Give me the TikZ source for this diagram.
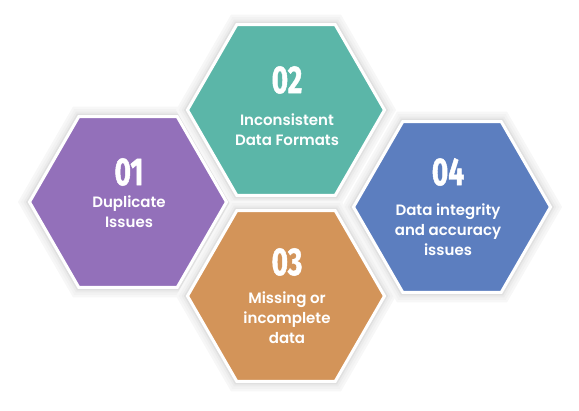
\documentclass[tikz,border=0pt]{standalone}
\usepackage{fontspec}
\usepackage{tikz}
\usetikzlibrary{shapes.geometric}
\newfontfamily\bodyfont{Poppins SemiBold}
\newfontfamily\numfont{Fira Sans Bold}[FakeStretch=0.72,FakeBold=1.2]
\definecolor{purp}{HTML}{9370BA}
\definecolor{teal}{HTML}{5BB6A8}
\definecolor{ochre}{HTML}{D39459}
\definecolor{steel}{HTML}{5C7EBF}

\begin{document}
\begin{tikzpicture}[
  x=1pt,y=-1pt,
  every node/.style={align=center,text=white},
  hexa/.style={regular polygon,regular polygon sides=6,minimum size=197pt,
               inner sep=0pt,draw=white,line width=3pt,
               preaction={draw=black!3,line width=20pt},
               preaction={draw=black!5,line width=15pt},
               preaction={draw=black!8,line width=10pt},
               preaction={draw=black!12,line width=6pt}},
  num/.style={font=\numfont\fontsize{39}{39}\selectfont},
  txt/.style={font=\bodyfont\fontsize{15}{20}\selectfont,anchor=north}
]
\useasboundingbox (0,0) rectangle (579,411);

% hexagons
\node[hexa,fill=purp] (h1) at (128,202) {};
\node[hexa,fill=teal] (h2) at (286,110) {};
\node[hexa,fill=ochre] (h3) at (286,296) {};
\node[hexa,fill=steel] (h4) at (452,207) {};

% labels
\node[num] (n1) at (129,172) {01};
\node[txt] (t1) at (129,192) {Duplicate\\Issues};
\node[num] (n2) at (287,80) {02};
\node[txt] (t2) at (287,110) {Inconsistent\\Data Formats};
\node[num] (n3) at (287,262) {03};
\node[txt] (t3) at (287,288) {Missing or\\incomplete\\data};
\node[num] (n4) at (448,172) {04};
\node[txt] (t4) at (448,200) {Data integrity\\and accuracy\\issues};
\end{tikzpicture}
\end{document}
